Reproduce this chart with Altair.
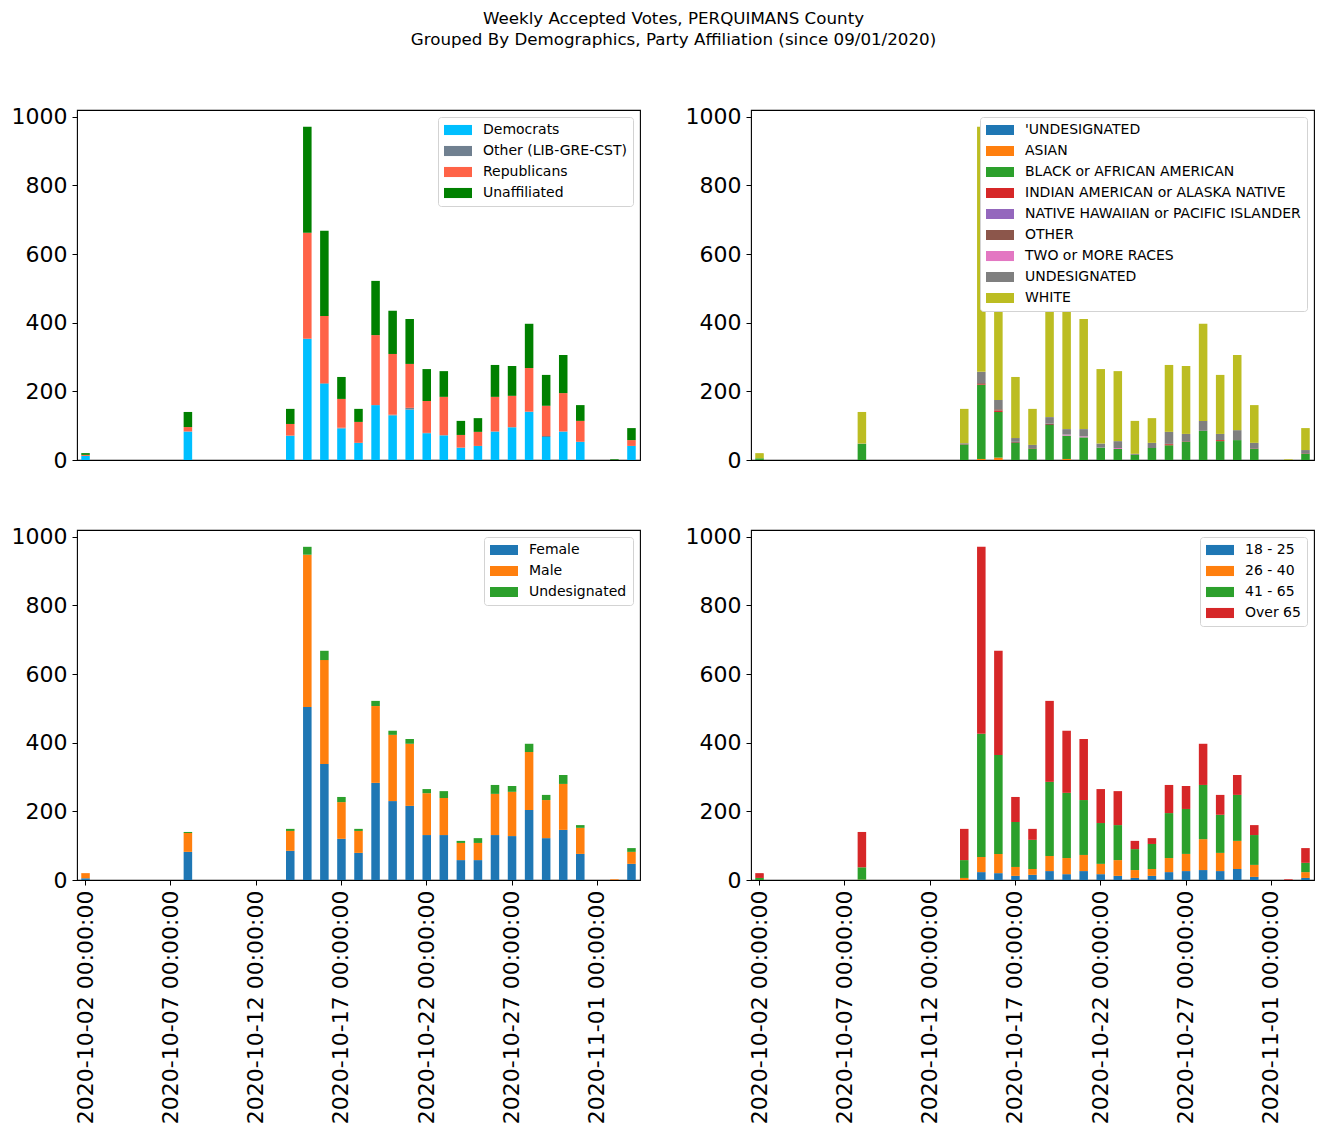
import altair as alt
import pandas as pd

# ---- categories (x axis: one slot per day) ----
all_dates = ["2020-10-02", "2020-10-03", "2020-10-04", "2020-10-05", "2020-10-06",
             "2020-10-07", "2020-10-08", "2020-10-09", "2020-10-10", "2020-10-11",
             "2020-10-12", "2020-10-13", "2020-10-14", "2020-10-15", "2020-10-16",
             "2020-10-17", "2020-10-18", "2020-10-19", "2020-10-20", "2020-10-21",
             "2020-10-22", "2020-10-23", "2020-10-24", "2020-10-25", "2020-10-26",
             "2020-10-27", "2020-10-28", "2020-10-29", "2020-10-30", "2020-10-31",
             "2020-11-01", "2020-11-02", "2020-11-03"]
tick_dates = ["2020-10-02", "2020-10-07", "2020-10-12", "2020-10-17",
              "2020-10-22", "2020-10-27", "2020-11-01"]
vote_days = ["2020-10-02", "2020-10-08", "2020-10-14", "2020-10-15", "2020-10-16",
             "2020-10-17", "2020-10-18", "2020-10-19", "2020-10-20", "2020-10-21",
             "2020-10-22", "2020-10-23", "2020-10-24", "2020-10-25", "2020-10-26",
             "2020-10-27", "2020-10-28", "2020-10-29", "2020-10-30", "2020-10-31",
             "2020-11-02", "2020-11-03"]

# ---- party affiliation ----
party_names = ["Democrats", "Other (LIB-GRE-CST)", "Republicans", "Unaffiliated"]
party_colors = ["#00bfff", "#708090", "#ff6347", "#008000"]
party_dem = [12, 83, 71, 353, 222, 92, 50, 160, 130, 147, 78, 72, 36, 41, 83, 95, 140, 67, 83, 53, 0, 41]
party_oth = [0, 0, 0, 0, 2, 2, 0, 0, 2, 5, 1, 0, 0, 0, 0, 1, 1, 3, 0, 0, 0, 0]
party_rep = [3, 13, 34, 309, 196, 84, 61, 204, 177, 128, 93, 112, 37, 41, 101, 91, 127, 88, 112, 61, 0, 17]
party_una = [5, 44, 44, 309, 248, 64, 38, 158, 126, 131, 93, 75, 41, 40, 93, 87, 129, 90, 111, 46, 2, 35]

# ---- race ----
race_names = ["'UNDESIGNATED", "ASIAN", "BLACK or AFRICAN AMERICAN",
              "INDIAN AMERICAN or ALASKA NATIVE", "NATIVE HAWAIIAN or PACIFIC ISLANDER",
              "OTHER", "TWO or MORE RACES", "UNDESIGNATED", "WHITE"]
race_colors = ["#1f77b4", "#ff7f0e", "#2ca02c", "#d62728", "#9467bd",
               "#8c564b", "#e377c2", "#7f7f7f", "#bcbd22"]
race_und_q = [0] * 22
race_asian = [0, 0, 0, 3, 7, 0, 0, 0, 3, 0, 0, 0, 0, 0, 0, 0, 0, 0, 0, 0, 0, 0]
race_black = [5, 47, 45, 216, 133, 50, 33, 102, 68, 66, 36, 32, 15, 35, 43, 53, 85, 55, 58, 32, 0, 18]
race_indian = [0, 0, 0, 2, 4, 0, 0, 0, 0, 0, 0, 0, 0, 0, 3, 0, 0, 3, 0, 0, 0, 0]
race_nhpi = [0] * 22
race_other = [0, 0, 2, 3, 4, 3, 2, 4, 0, 0, 0, 0, 0, 0, 1, 2, 0, 0, 0, 2, 0, 2]
race_two = [0, 0, 0, 0, 0, 0, 0, 0, 3, 3, 0, 3, 0, 0, 0, 0, 0, 0, 0, 0, 0, 0]
race_undes = [0, 1, 2, 33, 27, 11, 9, 19, 16, 21, 12, 20, 3, 15, 35, 21, 29, 18, 29, 16, 0, 9]
race_white = [15, 92, 100, 714, 493, 178, 105, 397, 345, 321, 217, 204, 96, 72, 195, 198, 283, 172, 219, 110, 2, 64]

# ---- gender ----
gender_names = ["Female", "Male", "Undesignated"]
gender_colors = ["#1f77b4", "#ff7f0e", "#2ca02c"]
gender_f = [5, 82, 85, 504, 338, 120, 79, 283, 230, 216, 131, 131, 58, 58, 131, 128, 204, 122, 146, 76, 0, 47]
gender_m = [15, 55, 58, 444, 303, 107, 64, 224, 193, 181, 122, 108, 50, 50, 120, 129, 169, 111, 134, 76, 2, 35]
gender_u = [0, 3, 6, 23, 27, 15, 6, 15, 12, 14, 12, 20, 6, 14, 26, 17, 24, 15, 26, 8, 0, 11]

# ---- age ----
age_names = ["18 - 25", "26 - 40", "41 - 65", "Over 65"]
age_colors = ["#1f77b4", "#ff7f0e", "#2ca02c", "#d62728"]
age_18 = [0, 0, 0, 23, 20, 12, 15, 26, 17, 26, 17, 12, 6, 12, 23, 26, 29, 26, 32, 9, 0, 6]
age_26 = [0, 1, 6, 44, 56, 26, 17, 44, 47, 47, 30, 46, 23, 20, 41, 50, 90, 53, 82, 35, 0, 17]
age_41 = [6, 36, 52, 359, 288, 131, 85, 216, 190, 160, 119, 102, 61, 73, 131, 131, 158, 111, 134, 87, 0, 27]
age_65 = [14, 103, 91, 545, 304, 73, 32, 236, 181, 178, 99, 99, 24, 17, 82, 67, 120, 58, 58, 29, 2, 43]

FONT = "DejaVu Sans"
RECT = "M-1,-0.36L1,-0.36L1,0.36L-1,0.36Z"


def panel(series, names, colors, show_x):
    rows = []
    for k, (name, vals) in enumerate(zip(names, series)):
        for d, v in zip(vote_days, vals):
            rows.append({"date": d, "group": name, "votes": v, "k": k})
    df = pd.DataFrame(rows)
    if show_x:
        x_axis = alt.Axis(values=tick_dates, labelExpr="datum.value + ' 00:00:00'",
                          labelAngle=270, labelFontSize=22, labelFont=FONT,
                          labelColor="black", labelLimit=600, tickSize=5, tickWidth=1,
                          tickColor="black", domain=False, labelPadding=5,
                          title=None, grid=False)
    else:
        x_axis = None
    return alt.Chart(df).mark_bar().encode(
        x=alt.X("date:N", sort=all_dates,
                scale=alt.Scale(domain=all_dates, paddingInner=0.5, paddingOuter=0.25),
                axis=x_axis),
        y=alt.Y("votes:Q", stack="zero",
                scale=alt.Scale(domain=[0, 1020], nice=False),
                axis=alt.Axis(values=[0, 200, 400, 600, 800, 1000], format="d",
                              labelFontSize=22, labelFont=FONT, labelColor="black",
                              tickSize=5, tickWidth=1, tickColor="black", domain=False,
                              labelPadding=5, title=None, grid=False)),
        color=alt.Color("group:N",
                        scale=alt.Scale(domain=names, range=colors),
                        legend=alt.Legend(title=None, orient="top-right", offset=7,
                                          fillColor="white", strokeColor="#d3d3d3",
                                          cornerRadius=3, padding=6,
                                          labelFontSize=14, labelFont=FONT,
                                          labelColor="black", labelLimit=500,
                                          symbolType=RECT, symbolSize=784,
                                          symbolStrokeWidth=0, symbolOpacity=1,
                                          labelOffset=11, clipHeight=14,
                                          rowPadding=7)),
        order=alt.Order("k:Q", sort="ascending"),
    ).properties(width=563, height=350)


p_party = panel([party_dem, party_oth, party_rep, party_una], party_names, party_colors, False)
p_race = panel([race_und_q, race_asian, race_black, race_indian, race_nhpi, race_other,
                race_two, race_undes, race_white], race_names, race_colors, False)
p_gender = panel([gender_f, gender_m, gender_u], gender_names, gender_colors, True)
p_age = panel([age_18, age_26, age_41, age_65], age_names, age_colors, True)

top = alt.hconcat(p_party, p_race, spacing=43).resolve_scale(color="independent")
bottom = alt.hconcat(p_gender, p_age, spacing=43).resolve_scale(color="independent")

chart = alt.vconcat(top, bottom, spacing=53).resolve_scale(
    color="independent"
).properties(
    title=alt.TitleParams(
        text=["Weekly Accepted Votes, PERQUIMANS County",
              "Grouped By Demographics, Party Affiliation (since 09/01/2020)"],
        fontSize=16.7, font=FONT, fontWeight="normal", color="black",
        anchor="middle", offset=57, lineHeight=21, dx=11),
    padding={"left": 2, "top": 2, "right": 0, "bottom": 2},
).configure_view(stroke="black", strokeWidth=1.1)

chart.save("out.html", embed_options={"renderer": "svg", "actions": False})
